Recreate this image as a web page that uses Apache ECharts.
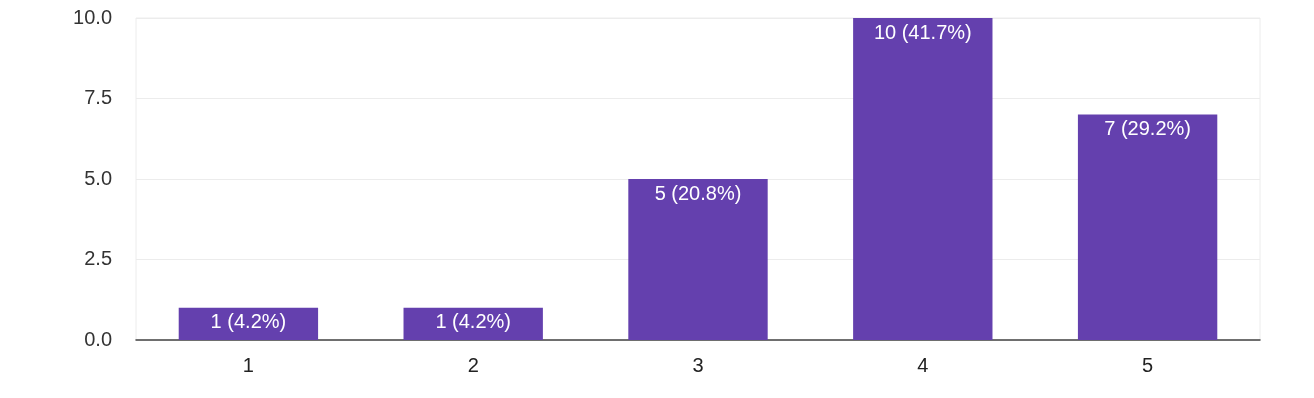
<!DOCTYPE html>
<html><head><meta charset="utf-8">
<script src="https://cdn.jsdelivr.net/npm/echarts@6/dist/echarts.min.js"></script>
<style>html,body{margin:0;padding:0;background:#fff}#c{width:1314px;height:398px}</style>
</head><body><div id="c"></div>
<script>
const categories = ['1','2','3','4','5'];
const counts = [1,1,5,10,7];
const percents = ['4.2%','4.2%','20.8%','41.7%','29.2%'];
const yTicks = ['0.0','2.5','5.0','7.5','10.0'];

const FONT = 'Arial, Liberation Sans, sans-serif';
const chart = echarts.init(document.getElementById('c'));
chart.setOption({
  animation:false,
  grid:{left:136,right:54,top:18,bottom:58,show:true,borderColor:'#ececec',borderWidth:1},
  xAxis:{type:'category',data:categories,
    axisLine:{lineStyle:{color:'#444',width:1.5}},axisTick:{show:false},
    axisLabel:{color:'#222',fontSize:20,fontFamily:FONT,margin:16}},
  yAxis:{type:'value',min:0,max:10,interval:2.5,
    axisLine:{show:false},axisTick:{show:false},
    splitLine:{lineStyle:{color:'#ececec'}},
    axisLabel:{color:'#333',fontSize:20,fontFamily:FONT,margin:24,
      formatter:v=>yTicks[Math.round(v/2.5)]}},
  series:[{type:'bar',data:counts,barCategoryGap:'38%',
    itemStyle:{color:'#6440ae'},
    label:{show:true,position:'insideTop',distance:5,color:'#fff',fontSize:20,
      fontFamily:FONT,
      formatter:p=>p.value+' ('+percents[p.dataIndex]+')'}}]
});
</script></body></html>
